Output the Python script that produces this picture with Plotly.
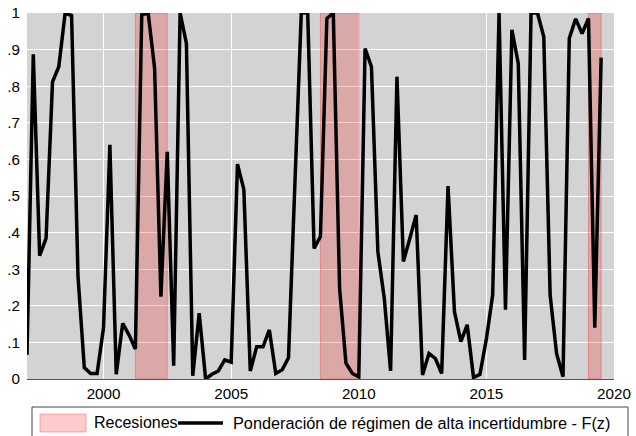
import pandas as pd
import plotly.graph_objects as go

# Quarterly series, 1997Q1 - 2019Q3
inicio = "1997-01-01"
n_trimestres = 91
fechas = pd.date_range(inicio, periods=n_trimestres, freq="QS")

ponderacion_fz = [
    0.066, 0.887, 0.337, 0.384, 0.812, 0.853, 1.000, 0.993, 0.280, 0.031,
    0.015, 0.015, 0.140, 0.640, 0.013, 0.152, 0.120, 0.082, 0.995, 1.000,
    0.849, 0.225, 0.621, 0.036, 1.000, 0.917, 0.009, 0.180, 0.000, 0.013,
    0.022, 0.052, 0.046, 0.587, 0.518, 0.022, 0.088, 0.088, 0.134, 0.015,
    0.025, 0.058, 0.530, 1.000, 1.000, 0.357, 0.389, 0.985, 1.000, 0.248,
    0.043, 0.015, 0.006, 0.903, 0.853, 0.348, 0.220, 0.022, 0.826, 0.321,
    0.384, 0.448, 0.011, 0.070, 0.056, 0.015, 0.527, 0.184, 0.102, 0.148,
    0.004, 0.013, 0.110, 0.230, 1.000, 0.189, 0.954, 0.862, 0.052, 1.000,
    1.000, 0.935, 0.230, 0.070, 0.006, 0.931, 0.984, 0.944, 0.985, 0.140,
    0.878,
]

# Recession periods (start, end)
recesiones_inicio = ["2001-04-01", "2008-07-01", "2019-01-01"]
recesiones_fin = ["2002-07-01", "2010-01-01", "2019-07-01"]

y_ticks = [0, 0.1, 0.2, 0.3, 0.4, 0.5, 0.6, 0.7, 0.8, 0.9, 1.0]
y_ticktext = ["0", ".1", ".2", ".3", ".4", ".5", ".6", ".7", ".8", ".9", "1"]

etiqueta_recesiones = "Recesiones"
etiqueta_serie = "Ponderación de régimen de alta incertidumbre - F(z)"

W, H = 636, 436
ML, MR, MT, MB = 27, 22, 13, 57
PW, PH = W - ML - MR, H - MT - MB
FONT = "Liberation Sans, Arial, sans-serif"
FILL_REC = "rgba(255,0,0,0.2)"
LINE_REC = "rgba(235,70,70,0.45)"


def px_x(px):
    return (px - ML) / PW


def px_y(py):
    return (H - MB - py) / PH


fig = go.Figure()
fig.add_trace(go.Scatter(
    x=fechas, y=ponderacion_fz, mode="lines",
    line=dict(color="black", width=3.5),
    name=etiqueta_serie, showlegend=False,
))

for ini, fin in zip(recesiones_inicio, recesiones_fin):
    fig.add_shape(type="rect", xref="x", yref="y", x0=ini, x1=fin, y0=0, y1=1,
                  fillcolor=FILL_REC, line=dict(color=LINE_REC, width=1),
                  layer="between")

# Legend drawn below the plot
fig.add_shape(type="rect", xref="paper", yref="paper",
              x0=px_x(32), x1=px_x(628), y0=px_y(407), y1=px_y(437),
              line=dict(color="#444", width=1), fillcolor="white")
fig.add_shape(type="rect", xref="paper", yref="paper",
              x0=px_x(40), x1=px_x(86), y0=px_y(414), y1=px_y(432),
              fillcolor=FILL_REC, line=dict(color="rgba(255,0,0,0.3)", width=1))
fig.add_shape(type="line", xref="paper", yref="paper",
              x0=px_x(178), x1=px_x(223), y0=px_y(423), y1=px_y(423),
              line=dict(color="black", width=3.5))
fig.add_annotation(xref="paper", yref="paper", x=px_x(92), y=px_y(423),
                   text=etiqueta_recesiones, showarrow=False,
                   xanchor="left", yanchor="middle",
                   font=dict(family=FONT, size=16, color="black"))
fig.add_annotation(xref="paper", yref="paper", x=px_x(231), y=px_y(423),
                   text=etiqueta_serie, showarrow=False,
                   xanchor="left", yanchor="middle",
                   font=dict(family=FONT, size=16.3, color="black"))

fig.update_layout(
    width=W, height=H,
    margin=dict(l=ML, r=MR, t=MT, b=MB, autoexpand=False),
    paper_bgcolor="white", plot_bgcolor="#d3d3d3",
    font=dict(family=FONT, size=15.2, color="black"),
    showlegend=False,
)
fig.update_xaxes(
    type="date", range=["1997-01-01", "2020-01-01"],
    tick0="2000-01-01", dtick="M60", tickformat="%Y",
    showgrid=True, gridcolor="white", gridwidth=1,
    showline=True, linecolor="#555", linewidth=1,
    ticks="", ticklabelstandoff=1, zeroline=False, automargin=False,
)
fig.update_yaxes(
    range=[0, 1], tickvals=y_ticks, ticktext=y_ticktext,
    showgrid=True, gridcolor="white", gridwidth=1,
    showline=False, ticks="", ticklabelstandoff=6, zeroline=False,
    automargin=False,
)

fig.write_html("out.html")
